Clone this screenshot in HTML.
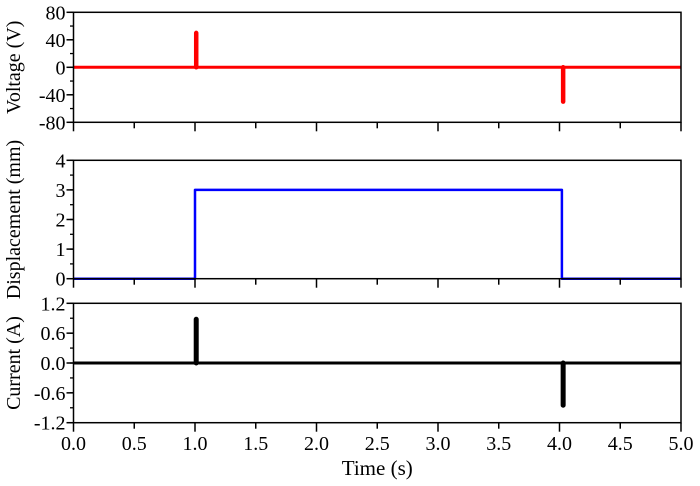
<!DOCTYPE html>
<html><head><meta charset="utf-8"><style>
body{margin:0;background:#fff;}
svg{display:block;font-family:"Liberation Serif",serif;}
</style></head><body>
<svg id="chart" width="700" height="486"></svg>
<script>
const timeTicks=[0,0.5,1,1.5,2,2.5,3,3.5,4,4.5,5];
const timeLabels=["0.0","0.5","1.0","1.5","2.0","2.5","3.0","3.5","4.0","4.5","5.0"];
const voltageT=[0,1.01,1.01,1.01,4.03,4.03,4.03,5];
const voltageV=[0,0,50,0,0,-50,0,0];
const dispT=[0,1.0,1.0,4.02,4.02,5];
const dispV=[0,0,3,3,0,0];
const currentT=[0,1.01,1.01,1.01,4.03,4.03,4.03,5];
const currentV=[0,0,0.88,0,0,-0.85,0,0];
const vTicks=[80,40,0,-40,-80];
const dTicks=[4,3,2,1,0];
const cTicks=[1.2,0.6,0.0,-0.6,-1.2];
const cLabels=["1.2","0.6","0.0","-0.6","-1.2"];

const svg=document.getElementById('chart');
const NS='http://www.w3.org/2000/svg';
const X0=73.5,X1=681;
const xs=t=>X0+(t-0)/(5-0)*(X1-X0);
function mk(tag,attrs,parent){const e=document.createElementNS(NS,tag);for(const k in attrs)e.setAttribute(k,attrs[k]);(parent||svg).appendChild(e);return e;}

const panels=[
 {name:'voltage',top:12.3,bot:122.3,min:-80,max:80,ticks:vTicks,labels:vTicks.map(String),title:'Voltage (V)',T:voltageT,V:voltageV,color:'#ff0000',w:3,sw:4.5,minorStep:20},
 {name:'displacement',top:160.3,bot:278.7,min:0,max:4,ticks:dTicks,labels:dTicks.map(String),title:'Displacement (mm)',T:dispT,V:dispV,color:'#0000ff',w:2.5,sw:0,minorStep:0.5},
 {name:'current',top:303.3,bot:422.7,min:-1.2,max:1.2,ticks:cTicks,labels:cLabels,title:'Current (A)',T:currentT,V:currentV,color:'#000000',w:3,sw:5,minorStep:0.3}
];
panels.forEach((p,pi)=>{
 const g=mk('g',{});
 
 
 const ys=v=>p.bot-(v-p.min)/(p.max-p.min)*(p.bot-p.top);
 let d='';p.T.forEach((t,i)=>{d+=(i?'L':'M')+xs(t).toFixed(1)+','+ys(p.V[i]).toFixed(1);});
 const path=mk('path',{d:d,fill:'none',stroke:p.color,'stroke-width':p.w,'stroke-linejoin':'round','stroke-linecap':'butt'},g);
 
 
 if(p.sw){
  p.T.forEach((t,i)=>{
   if(p.V[i]!==0){
    const s=mk('line',{x1:xs(t),x2:xs(t),y1:ys(0),y2:ys(p.V[i]),stroke:p.color,'stroke-width':p.sw,'stroke-linecap':'round'},g);
    
    
   }
  });
 }
 const fr=mk('rect',{x:X0,y:p.top,width:X1-X0,height:p.bot-p.top,fill:'none',stroke:'#000','stroke-width':1.5},g);
 
 
 for(let v=p.min;v<=p.max+1e-9;v+=p.minorStep){mk('line',{x1:X0,x2:X0-3.5,y1:ys(v),y2:ys(v),stroke:'#000','stroke-width':1.3},g);}
 p.ticks.forEach((v,i)=>{
  mk('line',{x1:X0,x2:X0-7,y1:ys(v),y2:ys(v),stroke:'#000','stroke-width':1.5},g);
  const t=mk('text',{x:X0-8,y:ys(v)+7,'text-anchor':'end','font-size':20},g);
  t.textContent=p.labels[i];
  
  
 });
 timeTicks.forEach((t,i)=>{
  mk('line',{x1:xs(t),x2:xs(t),y1:p.bot,y2:p.bot+(i%2===0?9:6),stroke:'#000','stroke-width':1.5},g);
 });
 const mid=(p.top+p.bot)/2;
 const tt=mk('text',{x:0,y:0,'text-anchor':'middle','font-size':20,transform:`translate(20,${mid}) rotate(-90)`},g);
 tt.textContent=p.title;
 
 
});
timeTicks.forEach((t,i)=>{
 const e=mk('text',{x:xs(t),y:450,'text-anchor':'middle','font-size':20});
 e.textContent=timeLabels[i];
 
 
});
const xt=mk('text',{x:xs(2.5),y:475,'text-anchor':'middle','font-size':21});
xt.textContent='Time (s)';


</script>
</body></html>
